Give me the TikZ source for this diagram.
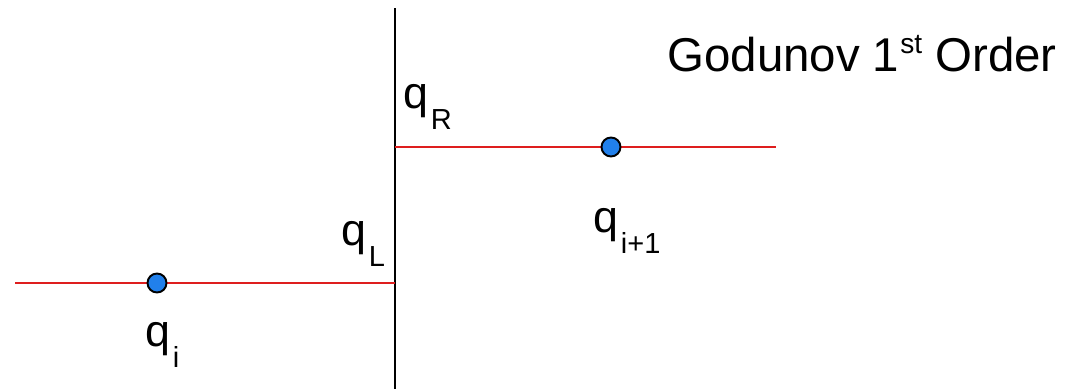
\documentclass[tikz,border=0pt]{standalone}
\usepackage{fontspec}
\setmainfont{Liberation Sans}
\usetikzlibrary{positioning, calc}

\definecolor{cellblue}{RGB}{33,128,235}
\definecolor{statered}{RGB}{222,30,30}

\newcommand{\lowidx}[1]{\hspace{1.5pt}\raisebox{-0.47em}{\fontsize{16.5}{16.5}\selectfont #1}}
\newcommand{\highidx}[1]{\hspace{0.5pt}\raisebox{0.36em}{\fontsize{16}{16}\selectfont #1}}

\begin{document}
\begin{tikzpicture}[
    x=0.02cm, y=-0.02cm,
    qtext/.style={font=\fontsize{25.5}{30}\selectfont, inner sep=0pt, anchor=base west},
    title/.style={font=\fontsize{27}{30}\selectfont, inner sep=0pt, anchor=base west},
    state/.style={draw=statered, line width=1.1pt},
    wall/.style={draw=black, line width=1.1pt},
    cell/.style={circle, draw=black, line width=1.1pt, fill=cellblue, minimum size=0.38cm, inner sep=0pt},
]

    \useasboundingbox (0,0) rectangle (1069,389);

    % Interface between the two cells
    \coordinate (wall_top) at (395,8);
    \coordinate (wall_bot) at (395,389);
    \draw[wall] (wall_top) -- (wall_bot);

    % Piecewise constant states
    \coordinate (left_end) at (15,283);
    \coordinate (iface_L) at (395,283);
    \coordinate (iface_R) at (395,147);
    \coordinate (right_end) at (776,147);
    \draw[state] (left_end) -- (iface_L);
    \draw[state] (iface_R) -- (right_end);

    % Cell centres
    \node[cell] (qi_dot) at (157,283) {};
    \node[cell] (qip_dot) at (611,147) {};

    % Labels
    \node[qtext] at ($(qi_dot)+(-12,63)$) (qi_lbl) {q\lowidx{i}};
    \node[qtext] at ($(qip_dot)+(-18,85)$) (qip_lbl) {q\lowidx{i+1}};
    \node[qtext] at ($(iface_R)+(8,-39)$) (qR_lbl) {q\lowidx{R}};
    \node[qtext] at ($(iface_L)+(-54,-38)$) (qL_lbl) {q\lowidx{L}};

    % Title
    \node[title] at (667,71) (title_lbl) {Godunov 1\highidx{st} Order};

\end{tikzpicture}
\end{document}
